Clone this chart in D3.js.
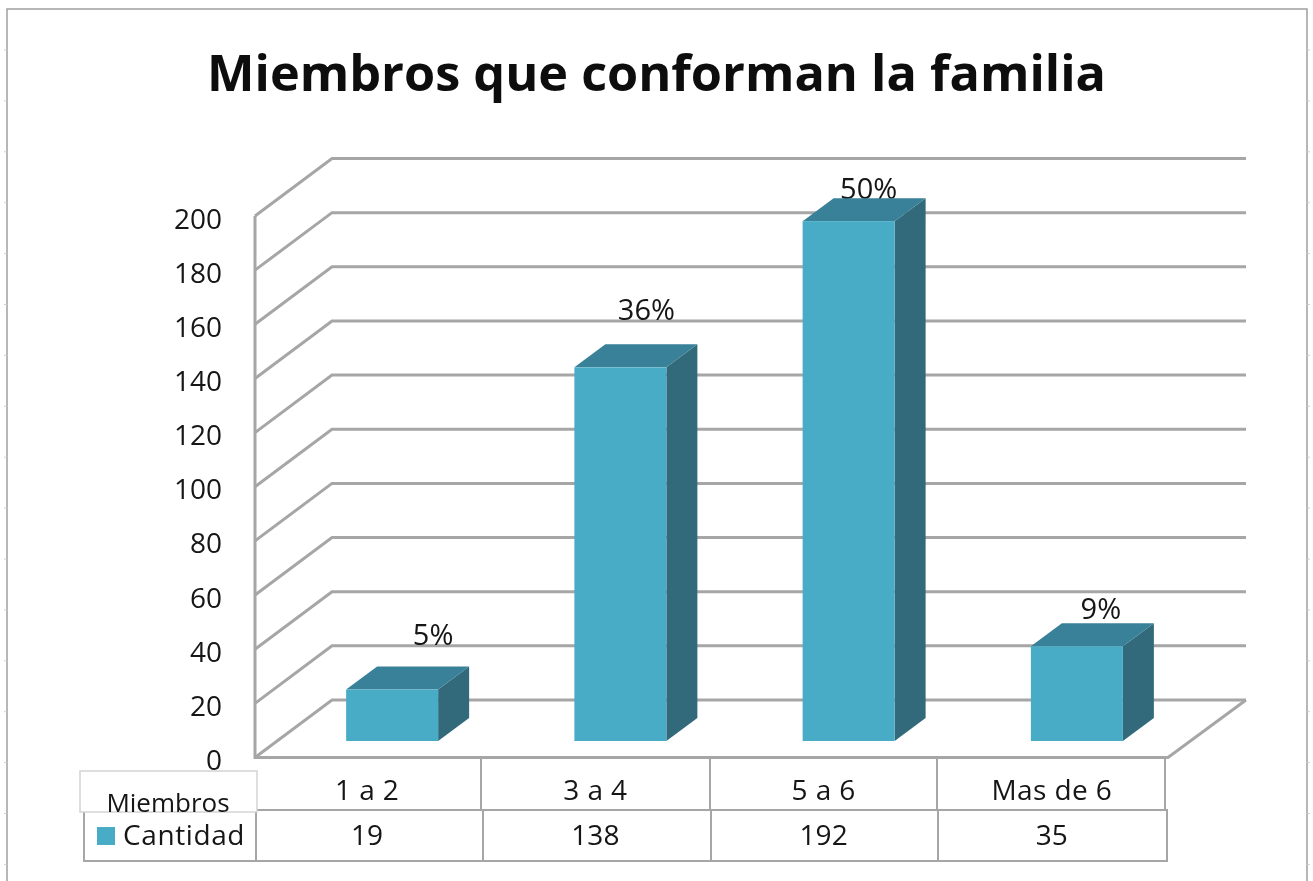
<!DOCTYPE html>
<html><head><meta charset="utf-8">
<script src="https://cdnjs.cloudflare.com/ajax/libs/d3/7.8.5/d3.min.js"></script>
<style>html,body{margin:0;padding:0;background:#fff}svg{display:block}text{font-family:"Open Sans",sans-serif;fill:#141414}</style>
</head><body><svg id="c" width="1313" height="881"></svg>
<script>
const title="Miembros que conforman la familia";
const categories=["1 a 2","3 a 4","5 a 6","Mas de 6"];
const values=[19,138,192,35];
const percents=["5%","36%","50%","9%"];
const yTicks=[0,20,40,60,80,100,120,140,160,180,200];
const rowHeader="Miembros";
const seriesName="Cantidad";

(function(){
const svg=d3.select("#c");
const defs=svg.append("defs");
defs.append("filter").attr("id","soft").append("feGaussianBlur").attr("stdDeviation",0.5);
const root=svg.append("g").attr("filter","url(#soft)");
const GRID="#a6a6a6";
const dx=77,dy=-57.5;
const y=d3.scaleLinear().domain([0,200]).range([757.5,216]);
const x=d3.scaleBand().domain(categories).range([278,1191]);
const barW=92,bx=31,by=-23,base=-16.5;
const labelNudge=[[41,-45],[26,-47],[20,-22],[24,-27]];

root.append("path").attr("d","M7,881V9H1307V881").attr("fill","none").attr("stroke","#a0a0a0").attr("stroke-width",1.5);
const rim=d3.range(50,881,50.9);
root.selectAll("path.rim").data(rim).join("path").attr("class","rim").attr("fill","none").attr("stroke","#cfcfcf").attr("stroke-width",1)
  .attr("d",d=>`M4,${d}H7M1307,${d}H1310`);

root.append("text").attr("x",656.5).attr("y",91).attr("text-anchor","middle")
  .attr("font-size",50.4).attr("font-weight",700).style("fill","#0a0a0a").text(title);

const g=root.append("g").attr("fill","none").attr("stroke",GRID).attr("stroke-width",3);
g.selectAll("path.grid").data(yTicks).join("path").attr("class","grid")
  .attr("d",d=>`M255,${y(d)}L${255+dx},${y(d)+dy}H1246`);
g.append("path").attr("d",`M255,${y(200)}V${y(0)}H1168L1246,${y(0)+dy}`);

root.selectAll("text.ytick").data(yTicks).join("text").attr("class","ytick")
  .attr("x",222).attr("text-anchor","end").attr("y",d=>y(d)+12.5).attr("font-size",28).text(d=>d);

const bars=root.selectAll("g.bar").data(categories.map((c,i)=>({c,v:values[i],p:percents[i],n:labelNudge[i]}))).join("g").attr("class","bar")
  .attr("transform",d=>`translate(${x(d.c)+(x.bandwidth()-barW)/2},0)`);
const barTop=d=>y(d.v)+base, bot=y(0)+base;
bars.append("text").attr("x",d=>barW/2+d.n[0]).attr("y",d=>barTop(d)+d.n[1])
  .attr("text-anchor","middle").attr("font-size",29).text(d=>d.p);
bars.append("path").attr("fill","#336b7c").attr("d",d=>`M${barW},${barTop(d)}l${bx},${by}V${bot+by}l${-bx},${-by}Z`);
bars.append("path").attr("fill","#398198").attr("d",d=>`M0,${barTop(d)}l${bx},${by}h${barW}l${-bx},${-by}Z`);
bars.append("rect").attr("fill","#4aacc7").attr("width",barW).attr("y",barTop).attr("height",d=>bot-barTop(d));

const t=root.append("g").attr("fill","none").attr("stroke",GRID).attr("stroke-width",2);
const head=[481,710,937,1165], row=[84,256,483,711,938,1167];
t.selectAll("line.h").data(head).join("line").attr("class","h").attr("x1",d=>d).attr("x2",d=>d).attr("y1",758).attr("y2",810);
t.append("path").attr("d","M84,810H1167V861H84Z");
t.selectAll("line.r").data(row.slice(1,-1)).join("line").attr("class","r").attr("x1",d=>d).attr("x2",d=>d).attr("y1",810).attr("y2",861);

root.append("rect").attr("x",80).attr("y",771).attr("width",177).attr("height",41).attr("fill","#fff").attr("stroke","#d4d4d4").attr("stroke-width",1.5);
root.append("text").attr("x",168).attr("y",812).attr("text-anchor","middle").attr("font-size",26).text(rowHeader);
root.append("rect").attr("x",97).attr("y",827).attr("width",18).attr("height",18).attr("fill","#4aacc7");
root.append("text").attr("x",123).attr("y",845).attr("font-size",28).attr("letter-spacing",0.6).text(seriesName);

root.selectAll("text.cat").data(categories).join("text").attr("class","cat")
  .attr("x",d=>x(d)+x.bandwidth()/2-25).attr("y",800).attr("text-anchor","middle").attr("font-size",28).attr("letter-spacing",0.4).text(d=>d);
root.selectAll("text.val").data(values).join("text").attr("class","val")
  .attr("x",(d,i)=>x(categories[i])+x.bandwidth()/2-25).attr("y",845).attr("text-anchor","middle").attr("font-size",28).text(d=>d);
})();
</script></body></html>
